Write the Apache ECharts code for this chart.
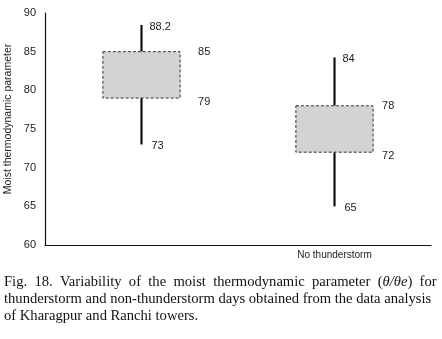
<!DOCTYPE html>
<html>
<head>
<meta charset="utf-8">
<script src="https://cdn.jsdelivr.net/npm/echarts@6/dist/echarts.min.js"></script>
<style>
  html, body { margin: 0; padding: 0; background: #fff; }
  #chart { width: 442px; height: 339px; }
</style>
</head>
<body>
<div id="chart"></div>
<script>
// values
const categories = ['', 'No thunderstorm'];
const whiskerLow = [73, 65];
const boxLow = [79, 72];
const boxHigh = [85, 78];
const whiskerHigh = [88.2, 84];
const yTicks = [60, 65, 70, 75, 80, 85, 90];

const boxData = categories.map((c, i) => [i, whiskerLow[i], boxLow[i], boxHigh[i], whiskerHigh[i]]);

const labelFont = '11px "Liberation Sans", Arial, sans-serif';
const capFont = '14.6px "Liberation Serif", "Times New Roman", serif';

const renderBox = (params, api) => {
    const idx = api.value(0);
    const band = api.size([1, 0])[0];
    const half = band * 0.2;
    const pLow = api.coord([idx, api.value(1)]);
    const pQ1 = api.coord([idx, api.value(2)]);
    const pQ3 = api.coord([idx, api.value(3)]);
    const pHigh = api.coord([idx, api.value(4)]);
    const cx = pQ1[0];
    // box labels sit further out on the first box in the original
    const gap = params.dataIndex === 0 ? 18 : 9;
    const txt = (x, y, v) => ({
        type: 'text',
        style: { x: x, y: y, text: String(v), font: labelFont, fill: '#222', verticalAlign: 'middle' }
    });
    return {
        type: 'group',
        children: [
            { type: 'line', shape: { x1: cx, y1: pQ3[1], x2: cx, y2: pHigh[1] - 2 }, style: { stroke: '#111', lineWidth: 2.2 } },
            { type: 'line', shape: { x1: cx, y1: pQ1[1], x2: cx, y2: pLow[1] }, style: { stroke: '#111', lineWidth: 2.2 } },
            {
                type: 'rect',
                shape: { x: cx - half, y: pQ3[1], width: half * 2, height: pQ1[1] - pQ3[1] },
                style: { fill: '#d3d3d3', stroke: '#333', lineWidth: 1, lineDash: [3, 2] }
            },
            txt(cx + 8, pHigh[1], api.value(4)),
            txt(cx + half + gap, pQ3[1], api.value(3)),
            txt(cx + half + gap, pQ1[1] + 4, api.value(2)),
            txt(cx + 10, pLow[1] + 2, api.value(1))
        ]
    };
};

const chart = echarts.init(document.getElementById('chart'), null, { renderer: 'canvas' });
chart.setOption({
    animation: false,
    grid: { left: 45, right: 11, top: 13, bottom: 94 },
    xAxis: {
        type: 'category',
        data: categories,
        axisLine: { lineStyle: { color: '#111', width: 1.2 } },
        axisTick: { show: false },
        axisLabel: { color: '#222', fontSize: 10, fontFamily: '"Liberation Sans", Arial, sans-serif', margin: 5 },
        splitLine: { show: false }
    },
    yAxis: {
        type: 'value',
        min: yTicks[0],
        max: yTicks[yTicks.length - 1],
        interval: 5,
        axisLine: { show: true, lineStyle: { color: '#111', width: 1.2 } },
        axisTick: { show: false },
        splitLine: { show: false },
        axisLabel: { color: '#222', fontSize: 11, fontFamily: '"Liberation Sans", Arial, sans-serif', margin: 9 }
    },
    graphic: [
        {
            type: 'text',
            x: 8,
            y: 119,
            rotation: Math.PI / 2,
            style: {
                text: 'Moist thermodynamic parameter',
                font: '10.5px "Liberation Sans", Arial, sans-serif',
                fill: '#222',
                align: 'center',
                verticalAlign: 'middle'
            }
        },
        {
            // first caption line is justified in the original, so the gaps are wider
            type: 'text',
            left: 4,
            top: 275,
            style: {
                text: '{a|Fig.  18.  Variability  of  the  moist  thermodynamic  parameter  (}{i|θ/θe}{a|)  for}',
                rich: {
                    a: { font: capFont, fill: '#111' },
                    i: { font: 'italic ' + capFont, fill: '#111' }
                }
            }
        },
        {
            type: 'text',
            left: 4,
            top: 292,
            style: {
                text: 'thunderstorm and non-thunderstorm days obtained from the data analysis',
                font: capFont,
                fill: '#111'
            }
        },
        {
            type: 'text',
            left: 4,
            top: 309,
            style: {
                text: 'of Kharagpur and Ranchi towers.',
                font: capFont,
                fill: '#111'
            }
        }
    ],
    series: [
        {
            type: 'custom',
            renderItem: renderBox,
            encode: { x: 0, y: [1, 2, 3, 4] },
            data: boxData
        }
    ]
});
</script>
</body>
</html>
